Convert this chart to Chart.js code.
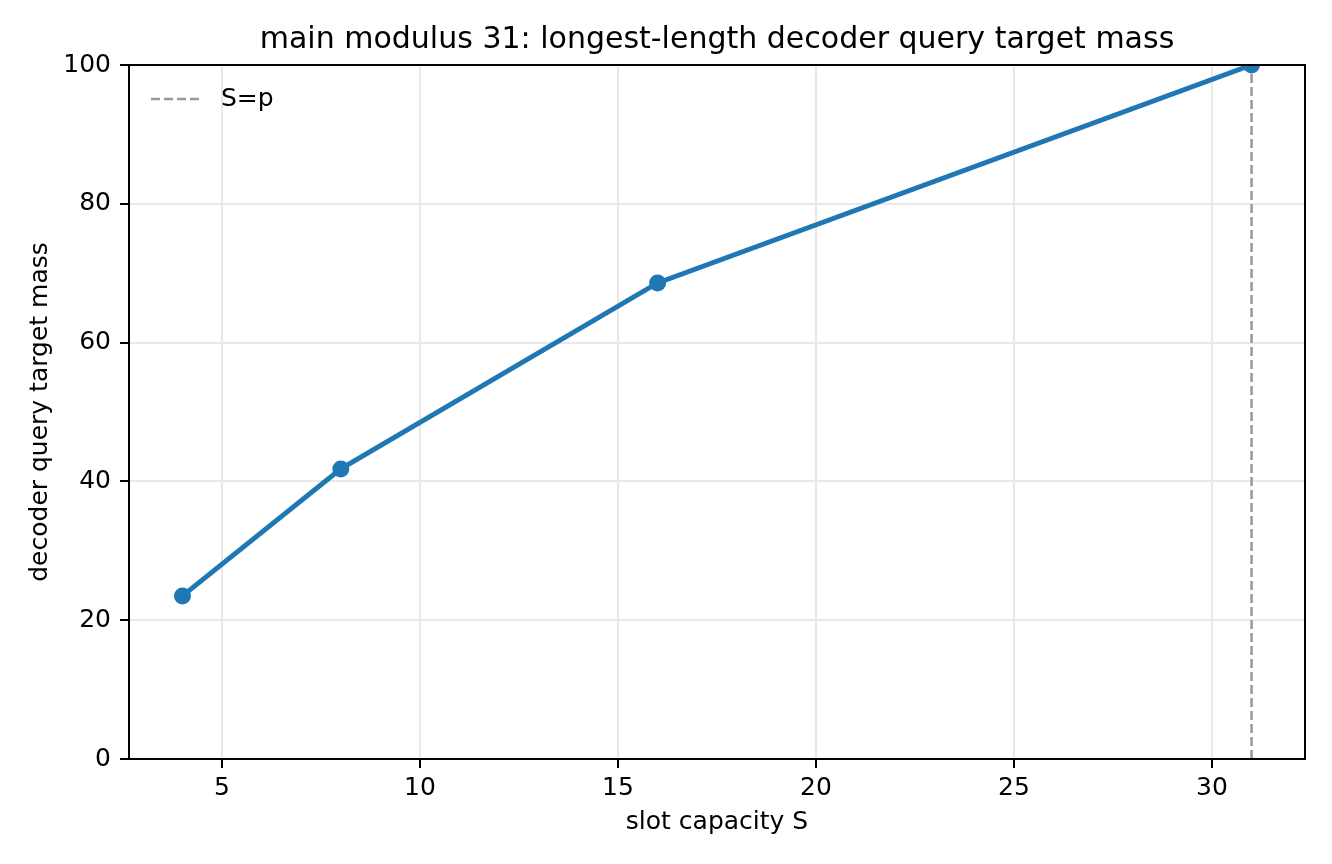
<!DOCTYPE html>
<html>
<head>
<meta charset="utf-8">
<script src="https://cdn.jsdelivr.net/npm/chart.js@4"></script>
<style>
  html, body { margin: 0; padding: 0; background: #fff; }
  #wrap { width: 1332px; height: 864px; position: relative; }
</style>
</head>
<body>
<div id="wrap"><canvas id="chart"></canvas></div>
<script>
// data
const slotCapacity = [4, 8, 16, 31];
const targetMass = [23.5, 41.8, 68.6, 100];
const mainModulus = 31;
const xTicks = [5, 10, 15, 20, 25, 30];
const yTicks = [0, 20, 40, 60, 80, 100];
const titleText = 'main modulus 31: longest-length decoder query target mass';

const FONT = "'DejaVu Sans', sans-serif";

// spines on all four sides, drawn over the data like matplotlib does
const frame = {
    id: 'frame',
    afterDatasetsDraw(chart) {
        const { ctx, chartArea: a } = chart;
        ctx.save();
        ctx.strokeStyle = '#000';
        ctx.lineWidth = 2;
        ctx.strokeRect(a.left, a.top, a.right - a.left, a.bottom - a.top);
        ctx.restore();
    }
};

// title centred over the axes (not the whole canvas) + legend in the corner
const decorations = {
    id: 'decorations',
    afterDraw(chart) {
        const { ctx, chartArea: a } = chart;
        ctx.save();
        ctx.fillStyle = '#000';
        ctx.textBaseline = 'middle';
        ctx.textAlign = 'center';
        ctx.font = '30px ' + FONT;
        ctx.fillText(titleText, (a.left + a.right) / 2, a.top - 25);

        const y = a.top + 34;
        ctx.strokeStyle = '#999999';
        ctx.lineWidth = 2.5;
        ctx.setLineDash([9, 4]);
        ctx.beginPath();
        ctx.moveTo(a.left + 22, y);
        ctx.lineTo(a.left + 73, y);
        ctx.stroke();
        ctx.setLineDash([]);
        ctx.font = '25px ' + FONT;
        ctx.textAlign = 'left';
        ctx.fillText('S=p', a.left + 92, y);
        ctx.restore();
    }
};

const tickFont = { family: FONT, size: 25 };
const gridOpts = { color: '#e8e8e8', lineWidth: 2, tickColor: '#000', tickLength: 9, tickWidth: 2 };

new Chart(document.getElementById('chart'), {
    type: 'scatter',
    data: {
        datasets: [{
            label: 'target mass',
            data: slotCapacity.map((s, i) => ({ x: s, y: targetMass[i] })),
            showLine: true,
            borderColor: '#1f77b4',
            backgroundColor: '#1f77b4',
            borderWidth: 5,
            pointRadius: 8.5,
            pointHoverRadius: 8.5,
            pointBorderWidth: 0,
            clip: 0
        }, {
            label: 'S=p',
            data: [{ x: mainModulus, y: yTicks[0] }, { x: mainModulus, y: yTicks[yTicks.length - 1] }],
            showLine: true,
            borderColor: '#999999',
            borderWidth: 2.5,
            borderDash: [9, 4],
            pointRadius: 0,
            clip: 0
        }]
    },
    options: {
        responsive: true,
        maintainAspectRatio: false,
        devicePixelRatio: 1,
        animation: false,
        layout: { padding: { left: 0, right: 27, top: 65, bottom: 0 } },
        plugins: {
            legend: { display: false },
            tooltip: { enabled: false },
            title: { display: false }
        },
        scales: {
            x: {
                type: 'linear',
                min: 2.65,
                max: 32.35,
                afterBuildTicks: s => { s.ticks = xTicks.map(v => ({ value: v })); },
                afterFit: s => { s.height = 105; },
                ticks: { color: '#000', font: tickFont, padding: 5, maxRotation: 0 },
                grid: gridOpts,
                border: { display: false },
                title: {
                    display: true,
                    text: 'slot capacity S',
                    color: '#000',
                    font: tickFont,
                    padding: { top: 0, bottom: 27 }
                }
            },
            y: {
                type: 'linear',
                min: 0,
                max: 100,
                afterBuildTicks: s => { s.ticks = yTicks.map(v => ({ value: v })); },
                afterFit: s => { s.width = 129; },
                ticks: { color: '#000', font: tickFont, padding: 9 },
                grid: gridOpts,
                border: { display: false },
                title: {
                    display: true,
                    text: 'decoder query target mass',
                    color: '#000',
                    font: tickFont,
                    padding: { top: 25, bottom: 0 }
                }
            }
        }
    },
    plugins: [frame, decorations]
});
</script>
</body>
</html>
